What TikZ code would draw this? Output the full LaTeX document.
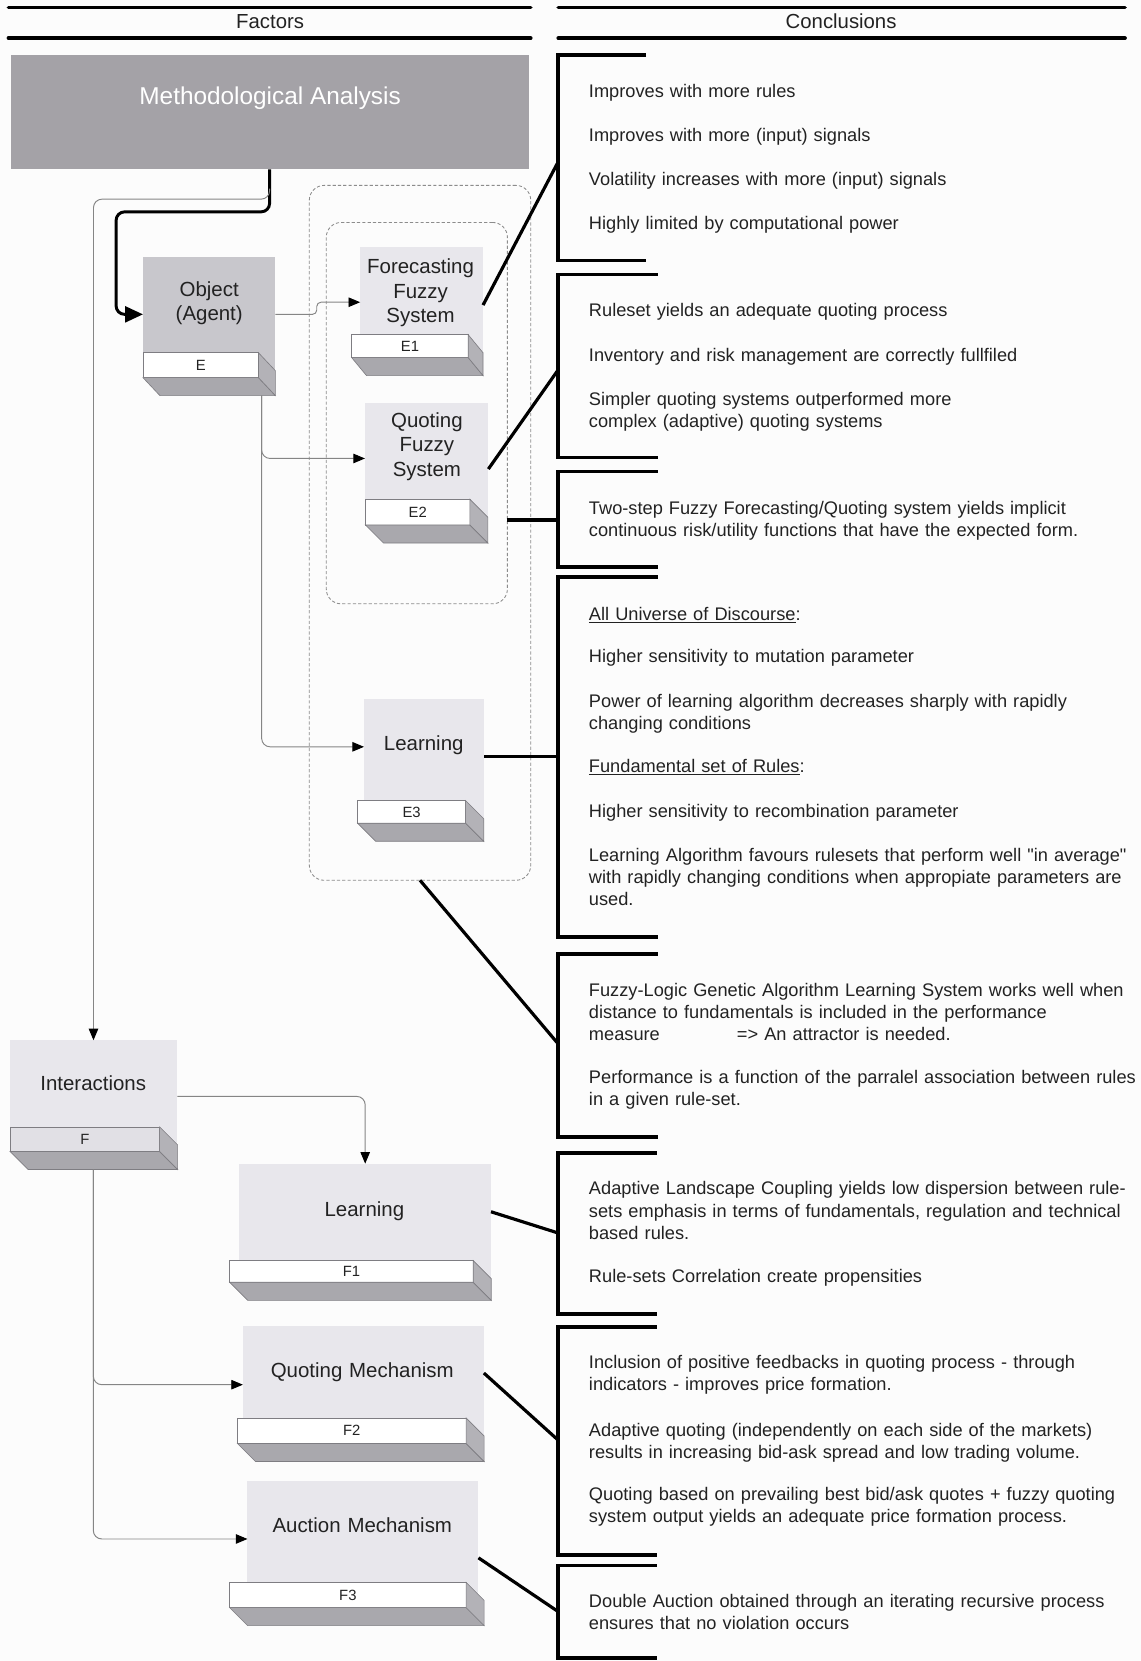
\documentclass[tikz,border=0pt]{standalone}
\usepackage{fontspec}
\setmainfont{Liberation Sans}
\newfontfamily\qfont{Liberation Sans}
\usetikzlibrary{arrows.meta,calc}
\definecolor{methgray}{HTML}{A4A2A7}
\definecolor{objgray}{HTML}{C8C7CC}
\definecolor{boxlight}{HTML}{E8E7EC}
\definecolor{intertab}{HTML}{E1E0E5}
\definecolor{botc}{HTML}{A9A8AD}
\definecolor{sidec}{HTML}{B3B2B7}
\definecolor{edgec}{HTML}{7E7D82}
\definecolor{txtc}{HTML}{222222}
\definecolor{connc}{HTML}{858585}
\definecolor{dashc}{HTML}{8C8C8C}
\definecolor{bgc}{HTML}{FCFCFC}
\newcommand\myBody{\fontsize{17.2pt}{21pt}\selectfont}
\newcommand\myBox{\fontsize{19.3pt}{23pt}\selectfont}
\newcommand\myTab{\fontsize{14pt}{16pt}\selectfont}
\newcommand\myHead{\fontsize{19.2pt}{22pt}\selectfont}
\newcommand\myMeth{\fontsize{23pt}{27pt}\selectfont}
\newcommand\myQuote{{\qfont"}}
\newcommand\slabfaces[2]{%
  \filldraw[botface] (#1.south west) -- (#1.south east) -- ++(#2,17) -- ($(#1.south west)+(#2,17)$) -- cycle;
  \filldraw[sideface] (#1.north east) -- ++(#2,17) -- ($(#1.south east)+(#2,17)$) -- (#1.south east) -- cycle;}
\begin{document}
\begin{tikzpicture}[x=1pt,y=-1pt,
  every node/.style={inner sep=0pt, outer sep=0pt},
  mainbox/.style={rectangle, anchor=north west, draw=none},
  tabbox/.style={rectangle, anchor=north west, fill=white, draw=edgec, line width=0.6pt, font=\myTab, text=txtc},
  botface/.style={fill=botc, draw=edgec, line width=0.6pt},
  sideface/.style={fill=sidec, draw=edgec, line width=0.6pt},
  boxtext/.style={anchor=base, align=center, text width=220pt, font=\myBox, text=txtc},
  ctext/.style={anchor=base west, align=left, text width=540pt, font=\myBody, text=txtc},
  conn/.style={draw=connc, line width=0.9pt, rounded corners=8pt, -{Triangle[length=11pt,width=9pt,color=black]}},
  heavy/.style={draw=black, line width=3pt},
  bracket/.style={draw=black, line width=3.5pt, line join=miter},
  hdr/.style={draw=black, line width=3.5pt, line cap=round},
  dbox/.style={rectangle, draw=dashc, line width=0.8pt, dash pattern=on 3pt off 2pt, rounded corners=14pt}]
\useasboundingbox (0,0) rectangle (1077,1568);
\fill[bgc] (0,0) rectangle (1077,1568);

% headers
\draw[hdr] (8,7) -- (501,7);
\draw[hdr] (8,36) -- (501,36);
\draw[hdr] (527,7) -- (1062,7);
\draw[hdr] (527,36) -- (1062,36);
\node[anchor=base, font=\myHead, text=txtc] (facttxt) at (255,27) {Factors};
\node[anchor=base, font=\myHead, text=txtc] (conctxt) at (794,27) {Conclusions};

% dashed groups
\node[dbox, minimum width=209pt, minimum height=656pt] (outer) at (396.5,503) {};
\node[dbox, minimum width=171pt, minimum height=360pt] (inner) at (393.5,390) {};

% Methodological Analysis
\node[mainbox, fill=methgray, minimum width=489pt, minimum height=108pt] (meth) at (10,52) {};
\node[anchor=base, font=\myMeth, text=white] (methtxt) at (255,99) {Methodological Analysis};

% Object (Agent)
\node[mainbox, fill=objgray, minimum width=125pt, minimum height=113.5pt] (obj) at (135,243) {};
\node[tabbox, minimum width=109pt, minimum height=23.5pt] (objt) at (135,333) {E};
\slabfaces{objt}{16}
\node[boxtext] (objtxt) at (197.5,279.5) {Object\\(Agent)};

% E1
\node[mainbox, fill=boxlight, minimum width=116pt, minimum height=104.6pt] (e1) at (340,233) {};
\node[tabbox, minimum width=110pt, minimum height=21.6pt] (e1t) at (332,316) {E1};
\slabfaces{e1t}{14}
\node[boxtext] (e1txt) at (397,258.5) {Forecasting\\Fuzzy\\System};

% E2
\node[mainbox, fill=boxlight, minimum width=116.5pt, minimum height=115.6pt] (e2) at (344.5,380) {};
\node[tabbox, minimum width=98.6pt, minimum height=24.3pt] (e2t) at (345,471.3) {E2};
\slabfaces{e2t}{17}
\node[boxtext] (e2txt) at (403,403.5) {Quoting\\Fuzzy\\System};

% E3
\node[mainbox, fill=boxlight, minimum width=113.4pt, minimum height=117.4pt] (e3) at (343.6,659.8) {};
\node[tabbox, minimum width=102pt, minimum height=21.4pt] (e3t) at (337.6,755.8) {E3};
\slabfaces{e3t}{17}
\node[boxtext] (e3txt) at (400,708.5) {Learning};

% Interactions
\node[mainbox, fill=boxlight, minimum width=158.5pt, minimum height=105pt] (inter) at (9,982) {};
\node[tabbox, fill=intertab, minimum width=141.2pt, minimum height=23.2pt] (intert) at (9.5,1063.8) {F};
\slabfaces{intert}{17}
\node[boxtext] (intertxt) at (88,1029.5) {Interactions};

% F1
\node[mainbox, fill=boxlight, minimum width=237.5pt, minimum height=112pt] (f1) at (226,1098.5) {};
\node[tabbox, minimum width=229.9pt, minimum height=20.5pt] (f1t) at (216.8,1190) {F1};
\slabfaces{f1t}{17}
\node[boxtext] (f1txt) at (344,1148.5) {Learning};

% F2
\node[mainbox, fill=boxlight, minimum width=227.5pt, minimum height=111.1pt] (f2) at (229.3,1251.6) {};
\node[tabbox, minimum width=215.8pt, minimum height=24.2pt] (f2t) at (224.2,1338.5) {F2};
\slabfaces{f2t}{17}
\node[boxtext] (f2txt) at (342,1300.5) {Quoting Mechanism};

% F3
\node[mainbox, fill=boxlight, minimum width=218.1pt, minimum height=119.6pt] (f3) at (233.6,1398) {};
\node[tabbox, minimum width=223.2pt, minimum height=23.9pt] (f3t) at (216.8,1493.7) {F3};
\slabfaces{f3t}{17}
\node[boxtext] (f3txt) at (342,1447) {Auction Mechanism};

% brackets
\draw[bracket] (610,52) -- (527,52) -- (527,246) -- (610,246);
\draw[bracket] (621,259) -- (527,259) -- (527,432) -- (621,432);
\draw[bracket] (621,445) -- (527,445) -- (527,535) -- (621,535);
\draw[bracket] (621,544.7) -- (527,544.7) -- (527,884.3) -- (621,884.3);
\draw[bracket] (621,900.5) -- (527,900.5) -- (527,1073) -- (621,1073);
\draw[bracket] (620,1088.2) -- (527,1088.2) -- (527,1240.4) -- (620,1240.4);
\draw[bracket] (620,1252.5) -- (527,1252.5) -- (527,1468) -- (620,1468);
\draw[bracket] (620,1477.7) -- (527,1477.7) -- (527,1565) -- (620,1565);
\coordinate (b1) at (527,152.6);
\coordinate (b2) at (527,349);
\coordinate (b3) at (527,490.8);
\coordinate (b4) at (527,714);
\coordinate (b5) at (527,985.5);
\coordinate (b6) at (527,1164);
\coordinate (b7) at (527,1359.6);
\coordinate (b8) at (527,1521.4);

% connectors to conclusions
\draw[heavy] ($(e1.east)+(0,2.7)$) -- (b1);
\draw[heavy] ($(e2.east)+(0,5)$) -- (b2);
\draw[heavy] ($(inner.east)+(0,100.8)$) -- (b3);
\draw[heavy] ($(e3.east)+(0,-4.5)$) -- (b4);
\draw[heavy] (outer.south) -- (b5);
\draw[heavy] ($(f1.east)+(0,-10.6)$) -- (b6);
\draw[heavy] ($(f2.east)+(0,-11)$) -- (b7);
\draw[heavy] ($(f3.east)+(0,12.8)$) -- (b8);

% flow connectors
\draw[draw=black, line width=2.8pt, rounded corners=8pt, -{Triangle[length=17pt,width=15pt]}]
  (meth.south) -- ++(0,40) -| ($(obj.west)+(-25.4,-3)$) -- ($(obj.west)+(0,-3)$);
\draw[conn] ($(meth.south)+(0,18)$) -- ($(meth.south)+(0,28)$) -| (inter.north);
\draw[conn, rounded corners=4pt] ($(obj.east)+(0,-3)$) -- ++(39,0) |- (e1.west);
\coordinate (eout) at ($(objt.south east)+(3,17)$);
\draw[conn] (eout) |- ($(e2.west)+(0,-5)$);
\draw[conn] (eout) |- ($(e3.west)+(0,-13.5)$);
\draw[conn] ($(inter.east)+(0,0.5)$) -| (f1.north);
\coordinate (fout) at ($(intert.south)+(8,17)$);
\draw[conn] (fout) |- (f2.west);
\draw[conn] (fout) |- ($(f3.west)+(0,-5)$);

% conclusions text
\node[ctext] (c1a) at (556,92) {Improves with more rules};
\node[ctext] (c1b) at (556,134) {Improves with more (input) signals};
\node[ctext] (c1c) at (556,175.5) {Volatility increases with more (input) signals};
\node[ctext] (c1d) at (556,217) {Highly limited by computational power};

\node[ctext] (c2a) at (556,299) {Ruleset yields an adequate quoting process};
\node[ctext] (c2b) at (556,341) {Inventory and risk management are correctly fullfiled};
\node[ctext] (c2c) at (556,382.5) {Simpler quoting systems outperformed more\\complex (adaptive) quoting systems};

\node[ctext] (c3a) at (556,485.5) {Two-step Fuzzy Forecasting/Quoting system yields implicit\\continuous risk/utility functions that have the expected form.};

\node[ctext] (c4a) at (556,585.5) {\underline{All Universe of Discourse}:};
\node[ctext] (c4b) at (556,625.5) {Higher sensitivity to mutation parameter};
\node[ctext] (c4c) at (556,668) {Power of learning algorithm decreases sharply with rapidly\\changing conditions};
\node[ctext] (c4d) at (556,729.5) {\underline{Fundamental set of Rules}:};
\node[ctext] (c4e) at (556,772) {Higher sensitivity to recombination parameter};
\node[ctext] (c4f) at (556,813) {Learning Algorithm favours rulesets that perform well \myQuote in average\myQuote\\with rapidly changing conditions when appropiate parameters are\\used.};

\node[ctext] (c5a) at (556,940.5) {Fuzzy-Logic Genetic Algorithm Learning System works well when\\distance to fundamentals is included in the performance\\\makebox[139.7pt][l]{measure}=> An attractor is needed.};
\node[ctext] (c5b) at (556,1023) {Performance is a function of the parralel association between rules\\in a given rule-set.};

\node[ctext] (c6a) at (556,1128) {Adaptive Landscape Coupling yields low dispersion between rule-\\sets emphasis in terms of fundamentals, regulation and technical\\based rules.};
\node[ctext] (c6b) at (556,1211) {Rule-sets Correlation create propensities};

\node[ctext] (c7a) at (556,1292) {Inclusion of positive feedbacks in quoting process - through\\indicators - improves price formation.};
\node[ctext] (c7b) at (556,1355.6) {Adaptive quoting (independently on each side of the markets)\\results in increasing bid-ask spread and low trading volume.};
\node[ctext] (c7c) at (556,1416.5) {Quoting based on prevailing best bid/ask quotes + fuzzy quoting\\system output yields an adequate price formation process.};

\node[ctext] (c8a) at (556,1517.5) {Double Auction obtained through an iterating recursive process\\ensures that no violation occurs};
\end{tikzpicture}
\end{document}
